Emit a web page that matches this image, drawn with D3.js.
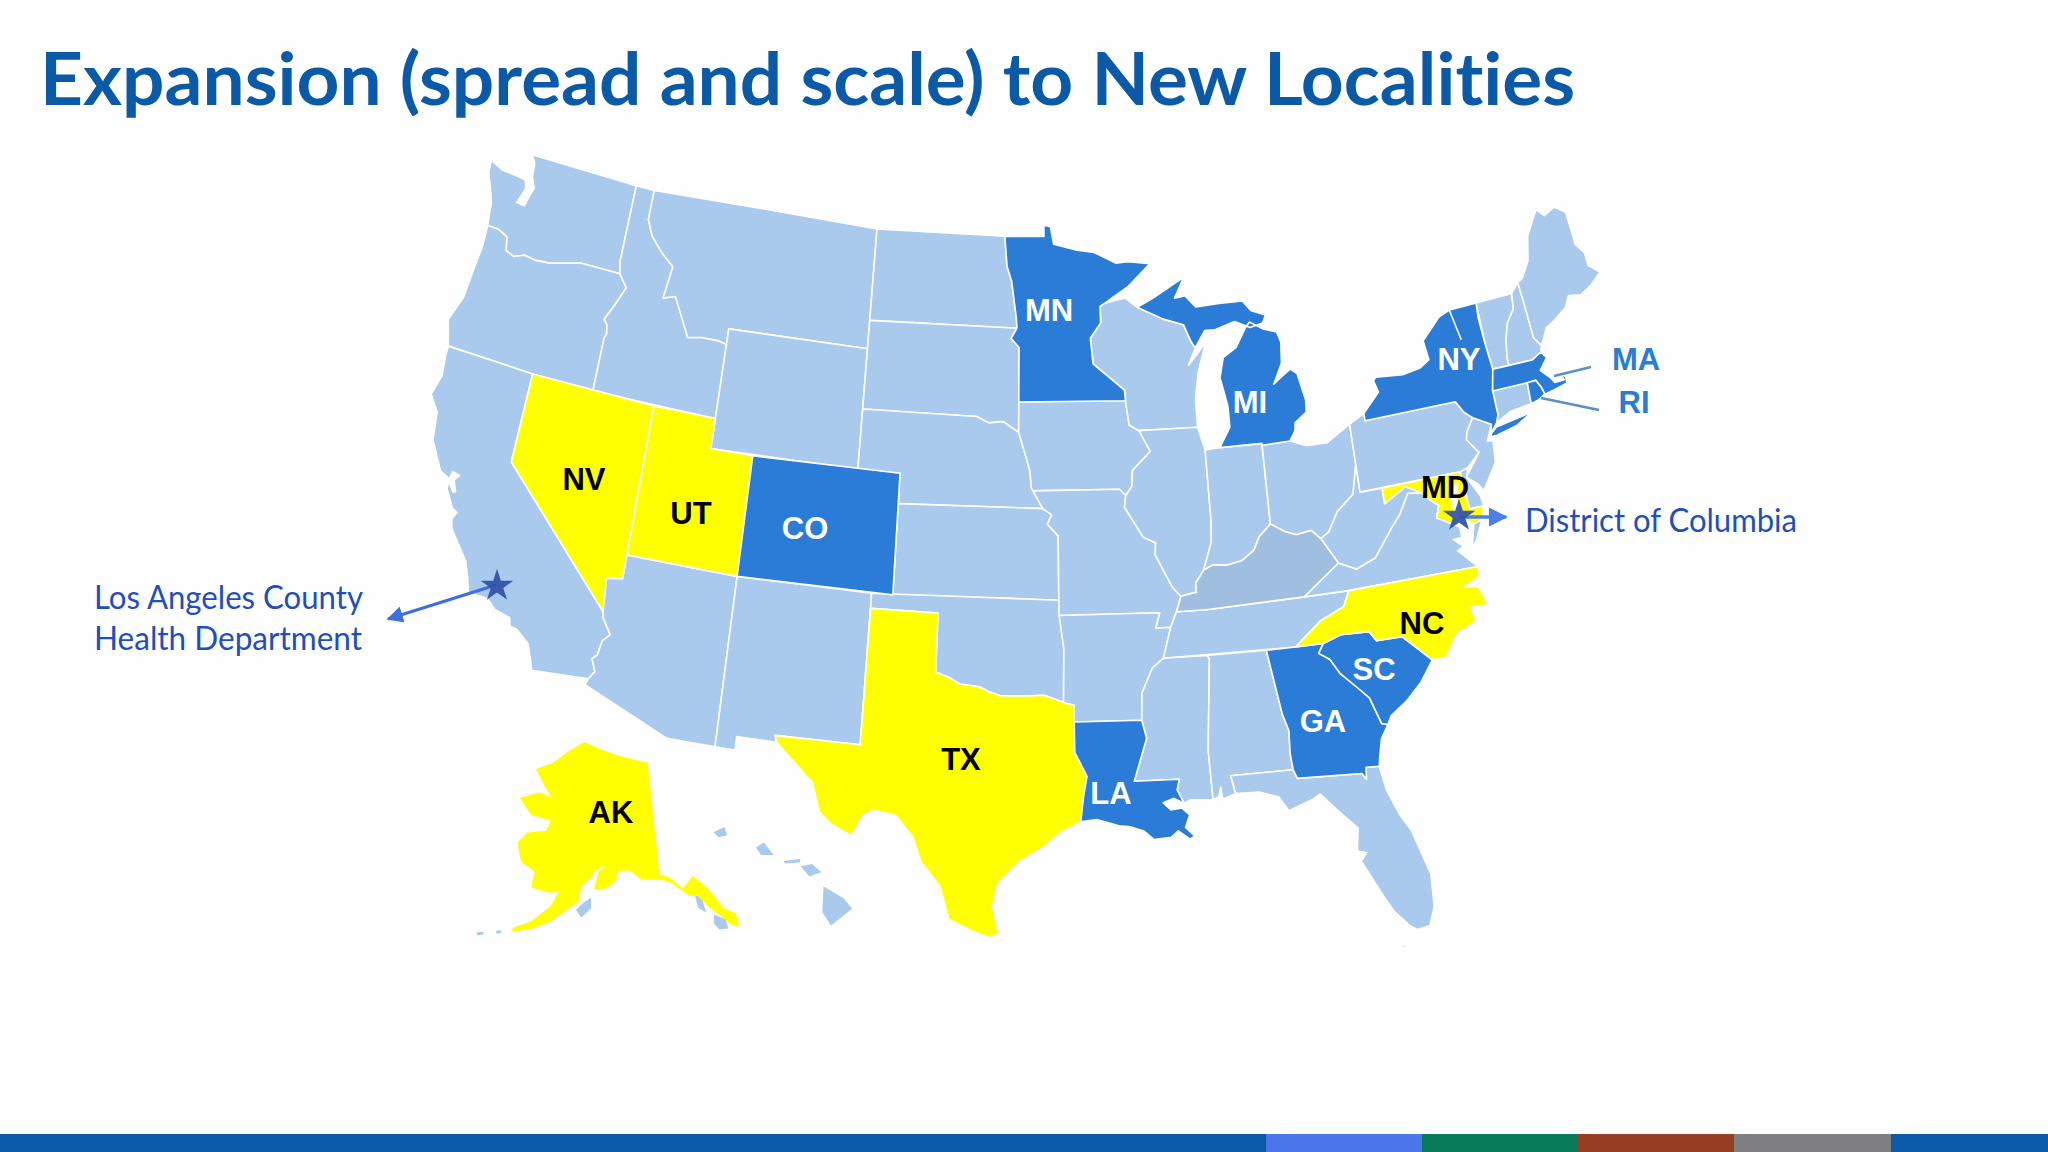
<!DOCTYPE html>
<html>
<head>
<meta charset="utf-8">
<title>Expansion to New Localities</title>
<script src="https://cdn.jsdelivr.net/npm/d3@7"></script>
<style>
  html, body { margin: 0; padding: 0; background: #fff; }
  svg { display: block; }
  text { font-variant-ligatures: none; }
</style>
</head>
<body>
<svg id="chart" width="2048" height="1152"></svg>
<script>
// State outlines, read as [lon, lat]
const WA = [[-124.73,48.38],[-124.05,48.18],[-123.15,48.15],[-122.75,48.12],[-122.62,47.85],[-122.88,47.3],[-122.45,47.28],[-122.35,47.6],[-122.2,47.95],[-122.45,48.3],[-122.5,48.75],[-122.76,49],[-117.03,49],[-117.04,46.42],[-116.92,46],[-118.98,46],[-119.3,45.93],[-120.5,45.7],[-121.2,45.65],[-121.8,45.7],[-122.3,45.55],[-122.75,45.65],[-122.9,46.1],[-123.4,46.25],[-123.98,46.25],[-124.07,46.7],[-124.1,46.95],[-124.3,47.35],[-124.68,47.95]];
const OR = [[-123.98,46.25],[-123.4,46.25],[-122.9,46.1],[-122.75,45.65],[-122.3,45.55],[-121.8,45.7],[-121.2,45.65],[-120.5,45.7],[-119.3,45.93],[-118.98,46],[-116.92,46],[-116.46,45.6],[-116.85,44.95],[-117.22,44.4],[-117.03,44.25],[-116.95,43.95],[-117.03,43.8],[-117.03,42],[-120,42],[-124.2,42],[-124.56,42.84],[-124.15,43.7],[-124.05,44.7],[-123.95,45.5]];
const CA = [[-124.2,42],[-120,42],[-120,39],[-114.63,35],[-114.57,34.8],[-114.14,34.3],[-114.43,34.05],[-114.53,33.55],[-114.72,33.4],[-114.5,33],[-114.72,32.72],[-117.12,32.53],[-117.25,32.85],[-117.5,33.35],[-118.1,33.72],[-118.4,33.75],[-118.5,34.02],[-119.2,34.15],[-119.6,34.42],[-120.47,34.45],[-120.65,34.9],[-120.9,35.4],[-121.85,36.3],[-121.95,36.6],[-121.8,36.85],[-122.05,36.95],[-122.5,37.5],[-122.5,37.75],[-122.2,37.45],[-122.1,37.5],[-122.3,37.85],[-122.1,38.05],[-122.45,38.1],[-122.52,37.83],[-123,38],[-123.7,38.9],[-123.85,39.8],[-124.35,40.3],[-124.1,41],[-124.2,41.7]];
const NV = [[-120,42],[-114.04,42],[-114.05,36.2],[-114.75,36.1],[-114.63,35],[-120,39]];
const ID = [[-117.03,49],[-116.05,49],[-116.05,48],[-115.7,47.5],[-115,47],[-114.35,46.65],[-114.55,45.56],[-113.95,45.7],[-113.45,45.05],[-113,44.45],[-112.3,44.55],[-111.5,44.55],[-111.05,44.48],[-111.05,42],[-117.03,42],[-117.03,43.8],[-116.95,43.95],[-117.03,44.25],[-117.22,44.4],[-116.85,44.95],[-116.46,45.6],[-116.92,46],[-117.04,46.42]];
const MT = [[-116.05,49],[-104.05,49],[-104.05,45],[-111.05,45],[-111.05,44.48],[-111.5,44.55],[-112.3,44.55],[-113,44.45],[-113.45,45.05],[-113.95,45.7],[-114.55,45.56],[-114.35,46.65],[-115,47],[-115.7,47.5],[-116.05,48]];
const WY = [[-111.05,45],[-104.05,45],[-104.05,41],[-111.05,41]];
const UT = [[-114.04,42],[-111.05,42],[-111.05,41],[-109.05,41],[-109.05,37],[-114.05,37]];
const CO = [[-109.05,41],[-102.05,41],[-102.05,37],[-109.05,37]];
const AZ = [[-114.05,37],[-109.05,37],[-109.05,31.33],[-111.07,31.33],[-114.81,32.5],[-114.72,32.72],[-114.5,33],[-114.72,33.4],[-114.53,33.55],[-114.43,34.05],[-114.14,34.3],[-114.57,34.8],[-114.63,35],[-114.75,36.1],[-114.05,36.2]];
const NM = [[-109.05,37],[-103,37],[-103.04,32],[-106.62,32],[-106.53,31.78],[-108.21,31.78],[-108.21,31.33],[-109.05,31.33]];
const ND = [[-104.05,49],[-97.23,49],[-97.1,48],[-96.85,47.5],[-96.6,46.3],[-96.56,45.94],[-104.05,45.94]];
const SD = [[-104.05,45.94],[-96.56,45.94],[-96.85,45.6],[-96.45,45.3],[-96.45,43.5],[-96.45,42.5],[-97.2,42.85],[-97.9,42.8],[-98.5,43],[-104.05,43]];
const NE = [[-104.05,43],[-98.5,43],[-97.9,42.8],[-97.2,42.85],[-96.45,42.5],[-96.1,41.7],[-95.9,41.2],[-95.85,40.7],[-95.31,40],[-102.05,40],[-102.05,41],[-104.05,41]];
const KS = [[-102.05,40],[-95.31,40],[-94.9,39.8],[-95.1,39.5],[-94.61,39.1],[-94.62,37],[-102.05,37]];
const OK = [[-103,37],[-94.62,37],[-94.43,35.4],[-94.48,33.64],[-95.3,33.88],[-96,33.85],[-96.6,33.85],[-97.2,33.85],[-97.7,33.98],[-98.1,34.13],[-98.95,34.2],[-99.4,34.4],[-100,34.56],[-100,36.5],[-103,36.5]];
const TX = [[-106.62,32],[-103.04,32],[-103,36.5],[-100,36.5],[-100,34.56],[-99.4,34.4],[-98.95,34.2],[-98.1,34.13],[-97.7,33.98],[-97.2,33.85],[-96.6,33.85],[-96,33.85],[-95.3,33.88],[-94.48,33.64],[-94.04,33.55],[-94.04,32],[-93.55,31.2],[-93.7,30.6],[-93.85,29.7],[-94.7,29.35],[-95.3,28.9],[-96.4,28.35],[-97.2,27.65],[-97.4,26.9],[-97.15,25.96],[-97.55,25.85],[-98.2,26.05],[-99.1,26.4],[-99.5,27.5],[-100.3,28.3],[-100.67,29.1],[-101.4,29.77],[-102.3,29.88],[-102.7,29.7],[-103.15,28.98],[-104,29.3],[-104.5,29.65],[-104.9,30.6],[-106.53,31.78]];
const MN = [[-97.23,49],[-95.15,49],[-95.15,49.38],[-94.8,49.33],[-94.64,48.74],[-93.5,48.55],[-92.5,48.45],[-91.4,48.07],[-90.75,48.1],[-89.6,48],[-90.8,47.28],[-92.05,46.75],[-92.3,46.65],[-92.3,46.1],[-92.85,45.6],[-92.75,44.75],[-91.25,43.85],[-91.22,43.5],[-96.45,43.5],[-96.45,45.3],[-96.85,45.6],[-96.56,45.94],[-96.6,46.3],[-96.85,47.5],[-97.1,48]];
const IA = [[-96.45,43.5],[-91.22,43.5],[-91.1,42.7],[-90.64,42.5],[-90.15,41.8],[-91.05,41.2],[-91.1,40.7],[-91.42,40.38],[-91.7,40.6],[-95.77,40.58],[-95.85,40.7],[-95.9,41.2],[-96.1,41.7],[-96.45,42.5]];
const MO = [[-95.77,40.58],[-91.7,40.6],[-91.42,40.38],[-91.5,40],[-90.7,39],[-90.15,38.8],[-90.2,38.4],[-89.5,37.3],[-89.15,37],[-89.4,36.5],[-89.7,36],[-90.37,36],[-90.15,36.5],[-94.62,36.5],[-94.62,37],[-94.61,39.1],[-95.1,39.5],[-94.9,39.8],[-95.31,40]];
const AR = [[-94.62,36.5],[-90.15,36.5],[-90.37,36],[-89.7,36],[-90.1,35],[-90.6,34.7],[-91.1,33.9],[-91.17,33],[-94.04,33],[-94.04,33.55],[-94.48,33.64],[-94.43,35.4]];
const LA = [[-94.04,33],[-91.17,33],[-91,32.4],[-91.6,31],[-89.73,31],[-89.85,30.65],[-89.6,30.2],[-90,30.38],[-90.45,30.25],[-90.15,30],[-89.7,30.05],[-89.4,29.8],[-89.6,29.4],[-89.25,29.1],[-89.45,29],[-89.9,29.3],[-90.2,29.1],[-90.9,29.05],[-91.3,29.35],[-91.85,29.5],[-92.3,29.55],[-93.2,29.77],[-93.85,29.7],[-93.7,30.6],[-93.55,31.2],[-94.04,32]];
const WI = [[-92.05,46.75],[-91,46.9],[-90.4,46.57],[-89.1,46.13],[-88.1,45.9],[-87.8,45.35],[-87.6,45.1],[-88,44.55],[-87.05,45.25],[-87.55,44.3],[-87.8,43.4],[-87.8,42.49],[-90.64,42.5],[-91.1,42.7],[-91.22,43.5],[-91.25,43.85],[-92.75,44.75],[-92.85,45.6],[-92.3,46.1],[-92.3,46.65]];
const IL = [[-90.64,42.5],[-87.8,42.49],[-87.53,41.72],[-87.53,39.35],[-87.6,38.7],[-88.05,37.8],[-88.45,37.4],[-88.45,37.1],[-89.15,37],[-89.5,37.3],[-90.2,38.4],[-90.15,38.8],[-90.7,39],[-91.5,40],[-91.42,40.38],[-91.1,40.7],[-91.05,41.2],[-90.15,41.8]];
const IN = [[-87.53,41.72],[-87.2,41.75],[-86.82,41.76],[-84.8,41.76],[-84.82,39.1],[-85.4,38.72],[-85.7,38.3],[-86.3,38],[-87,37.9],[-87.6,37.95],[-88.05,37.8],[-87.6,38.7],[-87.53,39.35]];
const OH = [[-84.8,41.7],[-83.45,41.73],[-82.7,41.5],[-81.7,41.5],[-80.52,41.98],[-80.52,40.64],[-80.85,39.7],[-81.7,39.2],[-82.2,38.6],[-82.6,38.42],[-83,38.73],[-83.7,38.65],[-84.2,38.8],[-84.82,39.1]];
const MI_LOWER = [[-86.82,41.76],[-84.8,41.76],[-84.8,41.7],[-83.45,41.73],[-83.15,42.05],[-83.1,42.3],[-82.5,42.6],[-82.45,43],[-82.7,43.9],[-83,44.07],[-83.4,43.9],[-83.9,43.65],[-83.4,44.3],[-83.3,45],[-83.45,45.35],[-84.1,45.5],[-84.75,45.78],[-85,45.6],[-85.55,45],[-86.25,44.7],[-86.5,44.05],[-86.25,43.1],[-86.25,42.4]];
const MI_UPPER = [[-90.4,46.57],[-89.1,46.13],[-88.1,45.9],[-87.8,45.35],[-87.6,45.1],[-87.05,45.65],[-86.5,45.65],[-85.5,45.85],[-84.75,45.6],[-84.1,45.7],[-83.9,45.95],[-84.6,46.15],[-85,46.5],[-86.2,46.5],[-87.4,46.45],[-87.9,46.85],[-88.45,46.8],[-87.9,47.47],[-88.9,47.1],[-89.6,46.83]];
const KY = [[-89.4,36.5],[-89.15,37],[-88.45,37.1],[-88.45,37.4],[-88.05,37.8],[-87.6,37.95],[-87,37.9],[-86.3,38],[-85.7,38.3],[-85.4,38.72],[-84.82,39.1],[-84.2,38.8],[-83.7,38.65],[-83,38.73],[-82.6,38.42],[-81.97,37.54],[-83.68,36.6],[-88.07,36.5]];
const TN = [[-89.4,36.5],[-88.07,36.5],[-83.68,36.6],[-81.68,36.59],[-82,36.1],[-83.1,35.75],[-84.32,35],[-90.1,35],[-89.7,36]];
const MS = [[-90.1,35],[-88.2,35],[-88.1,34.9],[-88.45,31.9],[-88.4,30.25],[-89.3,30.3],[-89.6,30.2],[-89.85,30.65],[-89.73,31],[-91.6,31],[-91,32.4],[-91.17,33],[-91.1,33.9],[-90.6,34.7]];
const AL = [[-88.2,35],[-85.6,35],[-85.2,32.85],[-85,32.3],[-85.05,31.55],[-85,31],[-87.6,31],[-87.45,30.4],[-88,30.25],[-88.05,30.65],[-88.15,30.35],[-88.4,30.25],[-88.45,31.9],[-88.1,34.9]];
const GA = [[-85.6,35],[-84.32,35],[-83.1,35],[-83.35,34.7],[-82.9,34.45],[-82.55,33.95],[-81.9,33.4],[-81.45,33],[-81.1,32.1],[-80.85,32.03],[-81.2,31.6],[-81.4,30.95],[-81.45,30.72],[-82,30.75],[-82.05,30.36],[-82.2,30.57],[-84.86,30.7],[-85,31],[-85.05,31.55],[-85,32.3],[-85.2,32.85]];
const FL = [[-87.6,31],[-85,31],[-84.86,30.7],[-82.2,30.57],[-82.05,30.36],[-82,30.75],[-81.45,30.72],[-81.3,29.9],[-80.9,29],[-80.55,28.45],[-80.05,26.9],[-80.12,25.8],[-80.4,25.2],[-80.9,25.15],[-81.15,25.3],[-81.7,25.9],[-82.05,26.5],[-82.7,27.7],[-82.45,27.95],[-82.8,28.05],[-82.65,28.8],[-83.4,29.5],[-84,30.1],[-84.35,29.95],[-85.35,29.67],[-85.7,30.15],[-86.5,30.38],[-87.45,30.4]];
const FL_KEYS = [[-81.85,24.6],[-81.45,24.72],[-81.45,24.62]];
const SC = [[-83.1,35],[-82.3,35.2],[-81.05,35.15],[-80.8,34.82],[-79.67,34.8],[-78.55,33.86],[-79.2,33.2],[-79.9,32.7],[-80.65,32.3],[-80.85,32.03],[-81.1,32.1],[-81.45,33],[-81.9,33.4],[-82.55,33.95],[-82.9,34.45],[-83.35,34.7]];
const NC = [[-84.32,35],[-83.1,35.75],[-82,36.1],[-81.68,36.59],[-75.85,36.55],[-75.95,36.2],[-76.6,36],[-76,35.9],[-75.75,35.25],[-76.5,35.3],[-76.4,34.8],[-77.3,34.55],[-77.95,33.85],[-78.55,33.86],[-79.67,34.8],[-80.8,34.82],[-81.05,35.15],[-82.3,35.2],[-83.1,35]];
const VA = [[-83.68,36.6],[-81.68,36.59],[-75.85,36.55],[-76.3,36.95],[-76.6,37.2],[-76.3,37.3],[-76.7,37.6],[-76.3,37.6],[-76.3,37.95],[-77,38.3],[-77.25,38.4],[-77.05,38.8],[-77.5,39.1],[-77.72,39.32],[-78.35,39.4],[-78.87,38.77],[-79.3,38.42],[-80.3,37.5],[-81.2,37.25],[-81.97,37.54]];
const VA_SHORE = [[-75.95,37.13],[-75.65,37.95],[-75.25,38.03],[-75.65,37.45]];
const WV = [[-81.97,37.54],[-81.2,37.25],[-80.3,37.5],[-79.3,38.42],[-78.87,38.77],[-78.35,39.4],[-77.72,39.32],[-78.4,39.62],[-79.48,39.2],[-79.48,39.72],[-80.52,39.72],[-80.52,40.64],[-80.85,39.7],[-81.7,39.2],[-82.2,38.6],[-82.6,38.42]];
const MD = [[-79.48,39.72],[-75.79,39.72],[-75.7,38.46],[-75.05,38.45],[-75.25,38.03],[-75.65,37.95],[-76.2,38.3],[-76.2,38.9],[-76,39.4],[-76.45,39.1],[-76.4,38.3],[-76.3,37.95],[-77,38.3],[-77.25,38.4],[-77.05,38.8],[-77.5,39.1],[-77.72,39.32],[-78.4,39.62],[-79.48,39.2]];
const DE = [[-75.79,39.72],[-75.4,39.8],[-75.55,39.5],[-75.1,38.8],[-75.05,38.45],[-75.7,38.46]];
const PA = [[-80.52,41.98],[-79.76,42.25],[-79.76,42],[-75.35,42],[-75.05,41.6],[-74.7,41.36],[-75.1,40.95],[-75.2,40.7],[-74.75,40.2],[-75.4,39.8],[-75.79,39.72],[-80.52,39.72]];
const NJ = [[-74.7,41.36],[-73.9,41],[-74.25,40.5],[-74,40.45],[-74.1,39.75],[-74.9,38.93],[-75.1,39.2],[-75.55,39.5],[-74.75,40.2],[-75.2,40.7],[-75.1,40.95]];
const NY = [[-79.76,42.25],[-79.76,42],[-75.35,42],[-75.05,41.6],[-74.7,41.36],[-73.9,41],[-74.03,40.7],[-73.65,41],[-73.5,41.25],[-73.5,42.05],[-73.26,42.75],[-73.35,43.6],[-73.4,44.5],[-73.34,45.01],[-74.7,45],[-75.3,44.85],[-76.3,44.2],[-76.2,43.55],[-76.7,43.35],[-77.6,43.25],[-78.9,43.35],[-79.05,43.25],[-78.9,42.85]];
const NY_LI = [[-74.03,40.6],[-73.75,40.6],[-72.75,40.75],[-71.9,41.05],[-72.6,40.98],[-73.7,40.87],[-74,40.7]];
const NY_TICK = [[-74.72,45],[-74.45,43.95]];
const VT = [[-73.34,45.01],[-71.5,45.01],[-71.6,44.5],[-72.05,44.1],[-72.3,43.6],[-72.46,43],[-72.46,42.73],[-73.26,42.75],[-73.35,43.6]];
const NH = [[-71.5,45.01],[-71.08,45.3],[-71.03,44.65],[-70.98,43.4],[-70.7,43.07],[-70.82,42.87],[-71.3,42.7],[-72.46,42.73],[-72.46,43],[-72.3,43.6],[-72.05,44.1],[-71.6,44.5]];
const ME = [[-71.08,45.3],[-70.8,45.4],[-70.3,45.9],[-70,46.7],[-69.23,47.46],[-68.9,47.18],[-68.3,47.36],[-67.8,47.07],[-67.78,45.95],[-67.45,45.6],[-67.45,45.15],[-66.97,44.82],[-67.6,44.5],[-68.2,44.3],[-68.8,44.4],[-69.1,44.05],[-69.8,43.75],[-70.25,43.6],[-70.7,43.07],[-70.98,43.4],[-71.03,44.65]];
const MA = [[-73.5,42.05],[-73.26,42.75],[-72.46,42.73],[-71.3,42.7],[-70.82,42.87],[-70.6,42.65],[-71.05,42.3],[-70.65,41.95],[-70.52,41.78],[-70.05,41.78],[-70.2,42.08],[-69.95,41.85],[-69.97,41.65],[-70.65,41.55],[-71.12,41.5],[-71.2,41.75],[-71.38,42.02],[-71.8,42.02]];
const RI = [[-71.8,42.02],[-71.38,42.02],[-71.2,41.75],[-71.12,41.5],[-71.48,41.37],[-71.85,41.32]];
const CT = [[-73.5,42.05],[-71.8,42.02],[-71.85,41.32],[-72.9,41.25],[-73.65,41],[-73.5,41.25]];

const AK = [[-141,69.65],[-141,60.3],[-139.5,60],[-137.5,58.9],[-135.5,59.8],[-133.4,58.4],[-131.8,56.6],[-130.3,56],[-130.3,54.8],[-131.5,55.2],[-132.5,56],[-134,57],[-135.5,58.2],[-136.6,58.2],[-139.5,59.6],[-141.5,59.95],[-144,60],[-146,60.8],[-148,60.8],[-148.3,60],[-150,59.3],[-151.9,59.2],[-151.3,60.7],[-150,61.2],[-151.8,60.8],[-152.6,60.1],[-154,59.4],[-154.2,58.1],[-156.5,57],[-158.5,56],[-161,55.2],[-163.5,54.7],[-163.3,55.1],[-161,55.9],[-158.5,57.4],[-157.5,58.7],[-159,58.5],[-162,58.65],[-162,60],[-164.5,60.5],[-165.3,61.2],[-166,62],[-164.8,63],[-161.5,63.5],[-161,64.4],[-165,64.5],[-168,65.6],[-164.5,66.5],[-161.8,66.3],[-163.5,67],[-166.5,68.3],[-163,69.2],[-160,70.4],[-156.6,71.35],[-152,70.85],[-148,70.4],[-144,70]];
const AK_KODIAK = [[-152.3,58.5],[-152.2,57.6],[-153.6,56.8],[-154.5,57.4],[-153.5,58]];
const AK_POW = [[-133.5,56.3],[-132,55.7],[-131.9,54.9],[-133.2,55],[-133.8,55.6]];
const AK_BARANOF = [[-135.8,58.2],[-134.8,57.9],[-134.6,56.6],[-135.6,57.1]];
const AK_ALEUTIAN_A = [[-165.6,54.5],[-164.9,54.6],[-164.8,54.4],[-165.5,54.25]];
const AK_ALEUTIAN_B = [[-168.2,53.9],[-167.3,54.1],[-167.2,53.9],[-168,53.65]];

const HI_KAUAI = [[-159.78,22.05],[-159.4,22.23],[-159.3,21.95],[-159.6,21.88]];
const HI_OAHU = [[-158.28,21.55],[-158,21.72],[-157.65,21.3],[-158.1,21.3]];
const HI_MOLOKAI = [[-157.3,21.1],[-156.72,21.17],[-156.72,21.05],[-157.25,21.02]];
const HI_MAUI = [[-156.7,20.92],[-156.3,21],[-155.98,20.72],[-156.4,20.58]];
const HI_BIG = [[-155.9,20.25],[-155.2,19.85],[-154.9,19.5],[-155.65,18.95],[-155.95,19.4]];

const yellowStates = ["NV", "UT", "TX", "AK", "NC", "MD"];
const blueStates = ["CO", "MN", "MI", "NY", "MA", "RI", "LA", "GA", "SC"];
const shadedStates = ["KY"];

const stateLabels = ["MN", "MI", "NY", "CO", "NV", "UT", "TX", "AK", "LA", "GA", "SC", "NC", "MD"];
const darkLabels = ["NV", "UT", "TX", "AK", "NC", "MD"];

const shapes = {
  WA: [WA], OR: [OR], CA: [CA], NV: [NV], ID: [ID], MT: [MT], WY: [WY], UT: [UT], CO: [CO], AZ: [AZ], NM: [NM],
  ND: [ND], SD: [SD], NE: [NE], KS: [KS], OK: [OK], TX: [TX], MN: [MN], IA: [IA], MO: [MO], AR: [AR], LA: [LA],
  WI: [WI], IL: [IL], IN: [IN], OH: [OH], MI: [MI_LOWER, MI_UPPER], KY: [KY], TN: [TN], MS: [MS], AL: [AL],
  GA: [GA], FL: [FL, FL_KEYS], SC: [SC], NC: [NC], VA: [VA, VA_SHORE], WV: [WV], MD: [MD], DE: [DE], PA: [PA], NJ: [NJ],
  NY: [NY, NY_LI], VT: [VT], NH: [NH], ME: [ME], MA: [MA], RI: [RI], CT: [CT]
};
const alaskaShapes = { AK: [AK], AK_EXTRA: [AK_KODIAK, AK_POW, AK_BARANOF, AK_ALEUTIAN_A, AK_ALEUTIAN_B] };
const hawaiiShapes = { HI: [HI_KAUAI, HI_OAHU, HI_MOLOKAI, HI_MAUI, HI_BIG] };

const colors = { light: "#a9caed", shaded: "#a0bfe0", blue: "#2b7cd6", yellow: "#ffff00" };

const svg = d3.select("#chart");

svg.append("rect").attr("width", 2048).attr("height", 1152).attr("fill", "#fefefe");

svg.append("text")
  .attr("x", 40).attr("y", 105)
  .attr("textLength", 1535).attr("lengthAdjust", "spacingAndGlyphs")
  .attr("font-family", "Lato").attr("font-weight", 700).attr("font-size", 73)
  .attr("fill", "#0a5aa8")
  .text("Expansion (spread and scale) to New Localities");

// Polygons must wind the small way round or d3-geo takes them as the rest of the globe
const toFeature = (name, rings) => ({
  type: "Feature",
  id: name,
  geometry: {
    type: "MultiPolygon",
    coordinates: rings.map(r => {
      const ring = [...r, r[0]];
      return [d3.geoArea({ type: "Polygon", coordinates: [ring] }) > 2 * Math.PI ? ring.reverse() : ring];
    })
  }
});

const fillFor = name => {
  if (yellowStates.includes(name)) return colors.yellow;
  if (blueStates.includes(name)) return colors.blue;
  if (shadedStates.includes(name)) return colors.shaded;
  return colors.light;
};

// The slide's lower 48 is a little narrower and taller than plain Albers, and its
// west end rides higher and its east end lower, so bend y a touch on each side
const conus = d3.geoConicEqualArea()
  .rotate([96, 0]).center([0, 38]).parallels([29.5, 45.5])
  .scale(1675).translate([0, 0]).precision(0.3);
const bend = x => x < 0 ? -7 * (x / 530) * (x / 530) : 4 * Math.min(1, x / 300);
const stretch = d3.geoTransform({
  point(x, y) { this.stream.point(1028 + x * 0.967, 569.5 + y * 1.033 + bend(x)); }
});
const conusPath = d3.geoPath({ stream: s => conus.stream(stretch.stream(s)) });

const alaska = d3.geoConicEqualArea()
  .rotate([148, 0]).center([0, 65]).parallels([55, 65])
  .scale(690).translate([618, 820]);
const hawaii = d3.geoConicEqualArea()
  .rotate([157.5, 0]).center([0, 20.8]).parallels([8, 18])
  .scale(1731).translate([778, 870]);

const drawStates = (cls, table, path) => {
  const features = Object.entries(table).map(([k, v]) => toFeature(k, v));
  // highlighted states go last so their edges stay whole
  features.sort((a, b) => (fillFor(a.id) !== colors.light) - (fillFor(b.id) !== colors.light));
  svg.append("g").attr("class", cls)
    .selectAll("path")
    .data(features)
    .join("path")
    .attr("d", path)
    .attr("fill", d => fillFor(d.id))
    .attr("stroke", cls === "conus" ? "#fff" : "none")
    .attr("stroke-width", 1.6)
    .attr("stroke-linejoin", "round");
};

drawStates("conus", shapes, conusPath);
drawStates("alaska", alaskaShapes, d3.geoPath(alaska));
drawStates("hawaii", hawaiiShapes, d3.geoPath(hawaii));

svg.append("path")
  .attr("d", conusPath({ type: "LineString", coordinates: NY_TICK }))
  .attr("fill", "none").attr("stroke", "#fff").attr("stroke-width", 1.6);

// State codes sit by eye on the slide, so these are layout, not data
const labelAt = {
  MN: [1049, 310], MI: [1250, 402], NY: [1459, 359], CO: [805, 528], NV: [584, 479], UT: [691, 513],
  TX: [961, 759], AK: [611, 812], LA: [1111, 793], GA: [1323, 721], SC: [1374, 669], NC: [1422, 623], MD: [1445, 487]
};
const labelFont = "'Liberation Sans', Arial, sans-serif";

// Leader lines first, the stars and labels sit over them
const defs = svg.append("defs");
const addHead = (id, color) => defs.append("marker")
  .attr("id", id).attr("viewBox", "0 0 10 10").attr("refX", 9).attr("refY", 5)
  .attr("markerWidth", 5.5).attr("markerHeight", 5.5).attr("orient", "auto")
  .append("path").attr("d", "M0,0L10,5L0,10Z").attr("fill", color);
addHead("arrowLA", "#3f6fdc");
addHead("arrowDC", "#4c7fe8");

const leader = (x1, y1, x2, y2, color, width, marker) => svg.append("line")
  .attr("x1", x1).attr("y1", y1).attr("x2", x2).attr("y2", y2)
  .attr("stroke", color).attr("stroke-width", width)
  .attr("marker-end", marker ? `url(#${marker})` : null);

leader(496, 585, 388, 619, "#3f6fdc", 3, "arrowLA");
leader(1459, 517, 1506, 517, "#4c7fe8", 3.5, "arrowDC");
leader(1554, 376, 1591, 367, "#5b8fc7", 2.5);
leader(1541, 398, 1599, 410, "#5b8fc7", 2.5);

const star = d3.symbol().type(d3.symbolStar).size(330);
svg.selectAll(".star")
  .data([[497, 586], [1459, 516]])
  .join("path")
  .attr("class", "star")
  .attr("d", star)
  .attr("transform", d => `translate(${d[0]},${d[1]})`)
  .attr("fill", "#2f50a8")
  .attr("fill-opacity", 0.92);

svg.append("g").selectAll("text")
  .data(stateLabels)
  .join("text")
  .attr("x", d => labelAt[d][0])
  .attr("y", d => labelAt[d][1] + 11)
  .attr("text-anchor", "middle")
  .attr("font-family", labelFont).attr("font-weight", 700).attr("font-size", 31)
  .attr("fill", d => darkLabels.includes(d) ? "#000" : "#fff")
  .text(d => d);

svg.selectAll(".side")
  .data([["MA", 1636, 370], ["RI", 1634, 413]])
  .join("text")
  .attr("class", "side")
  .attr("x", d => d[1]).attr("y", d => d[2])
  .attr("text-anchor", "middle")
  .attr("font-family", labelFont).attr("font-weight", 700).attr("font-size", 31)
  .attr("fill", "#2b7cd3")
  .text(d => d[0]);

svg.selectAll(".note")
  .data([["Los Angeles County", 94, 609, 269], ["Health Department", 94, 650, 268], ["District of Columbia", 1525, 532, 272]])
  .join("text")
  .attr("class", "note")
  .attr("x", d => d[1]).attr("y", d => d[2])
  .attr("textLength", d => d[3]).attr("lengthAdjust", "spacingAndGlyphs")
  .attr("font-family", "Lato").attr("font-size", 32)
  .attr("fill", "#1f4fbf")
  .text(d => d[0]);

// Footer band
const footerStops = [0, 1266, 1422, 1578, 1734, 1891, 2048];
const footerColors = ["#0a5ca8", "#4c76ec", "#087c5a", "#963f25", "#7f7e80", "#0a5ca8"];
svg.append("g").selectAll("rect")
  .data(footerColors)
  .join("rect")
  .attr("x", (d, i) => footerStops[i])
  .attr("y", 1134)
  .attr("width", (d, i) => footerStops[i + 1] - footerStops[i])
  .attr("height", 18)
  .attr("fill", d => d);
</script>
</body>
</html>
